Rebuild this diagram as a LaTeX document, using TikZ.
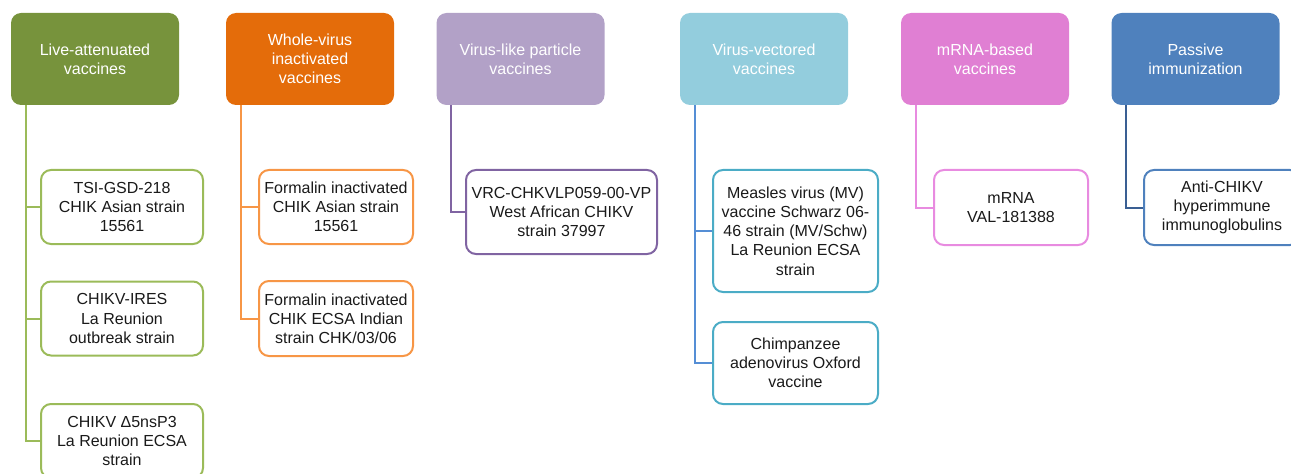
\documentclass[tikz,border=0pt]{standalone}
\usepackage{fontspec}
\setmainfont{Liberation Sans}
\definecolor{hA}{HTML}{77933C}\definecolor{bA}{HTML}{9BBB59}
\definecolor{hB}{HTML}{E46C0A}\definecolor{bB}{HTML}{F79646}
\definecolor{hC}{HTML}{B2A1C7}\definecolor{bC}{HTML}{8064A2}
\definecolor{hD}{HTML}{93CDDD}\definecolor{bD}{HTML}{4BACC6}\definecolor{lD}{HTML}{558ED5}
\definecolor{hE}{HTML}{E07FD3}\definecolor{bE}{HTML}{E88BE0}
\definecolor{hF}{HTML}{4F81BD}\definecolor{bF}{HTML}{4F81BD}\definecolor{lF}{HTML}{3A5F93}
\definecolor{txt}{HTML}{1A1A1A}
\begin{document}
\begin{tikzpicture}[x=0.75pt,y=-0.75pt,
  head/.style={rectangle, rounded corners=7.5pt, minimum width=126pt, minimum height=69pt,
    inner sep=0pt, align=center, text=white, font=\fontsize{12}{14.4}\selectfont},
  child/.style={rectangle, rounded corners=7.5pt, draw, line width=1.5pt, fill=white,
    inner sep=0pt, align=center, text=txt, font=\fontsize{12}{14.4}\selectfont},
  conn/.style={line width=1.5pt}]
\useasboundingbox (0,0) rectangle (1291,474);
% headers
\node[head, fill=hA] (h1) at (95,59) {Live-attenuated\\vaccines};
\node[head, fill=hB] (h2) at (310,59) {Whole-virus\\inactivated\\vaccines};
\node[head, fill=hC] (h3) at (520.5,59) {Virus-like particle\\vaccines};
\node[head, fill=hD] (h4) at (764,59) {Virus-vectored\\vaccines};
\node[head, fill=hE] (h5) at (985,59) {mRNA-based\\vaccines};
\node[head, fill=hF] (h6) at (1195.5,59) {Passive\\immunization};
% children
\node[child, draw=bA, minimum width=121.5pt, minimum height=55.5pt] (c11) at (122,207) {TSI-GSD-218\\CHIK Asian strain\\15561};
\node[child, draw=bA, minimum width=121.5pt, minimum height=55.5pt] (c12) at (122,318.5) {CHIKV-IRES\\La Reunion\\outbreak strain};
\node[child, draw=bA, minimum width=121.5pt, minimum height=55.5pt] (c13) at (122,441) {CHIKV Δ5nsP3\\La Reunion ECSA\\strain};
\node[child, draw=bB, minimum width=115.5pt, minimum height=55.5pt] (c21) at (336,207) {Formalin inactivated\\CHIK Asian strain\\15561};
\node[child, draw=bB, minimum width=115.5pt, minimum height=56.25pt] (c22) at (336,318.5) {Formalin inactivated\\CHIK ECSA Indian\\strain CHK/03/06};
\node[child, draw=bC, minimum width=143.25pt, minimum height=63pt] (c31) at (561.5,212) {VRC-CHKVLP059-00-VP\\West African CHIKV\\strain 37997};
\node[child, draw=bD, minimum width=123.75pt, minimum height=91.5pt] (c41) at (795.5,231) {Measles virus (MV)\\vaccine Schwarz 06-\\46 strain (MV/Schw)\\La Reunion ECSA\\strain};
\node[child, draw=bD, minimum width=123.75pt, minimum height=61.5pt] (c42) at (795.5,363) {Chimpanzee\\adenovirus Oxford\\vaccine};
\node[child, draw=bE, minimum width=115.5pt, minimum height=56.25pt] (c51) at (1011,207.5) {mRNA\\VAL-181388};
\node[child, draw=bF, minimum width=117pt, minimum height=56.25pt] (c61) at (1222,207.5) {Anti-CHIKV\\hyperimmune\\immunoglobulins};
% connectors
\draw[conn, bA] ([xshift=11.25pt]h1.south west) |- (c11.west);
\draw[conn, bA] ([xshift=11.25pt]h1.south west) |- (c12.west);
\draw[conn, bA] ([xshift=11.25pt]h1.south west) |- (c13.west);
\draw[conn, bB] ([xshift=11.25pt]h2.south west) |- (c21.west);
\draw[conn, bB] ([xshift=11.25pt]h2.south west) |- (c22.west);
\draw[conn, bC] ([xshift=11.25pt]h3.south west) |- (c31.west);
\draw[conn, lD] ([xshift=11.25pt]h4.south west) |- (c41.west);
\draw[conn, lD] ([xshift=11.25pt]h4.south west) |- (c42.west);
\draw[conn, bE] ([xshift=11.25pt]h5.south west) |- (c51.west);
\draw[conn, lF] ([xshift=11.25pt]h6.south west) |- (c61.west);
\end{tikzpicture}
\end{document}
